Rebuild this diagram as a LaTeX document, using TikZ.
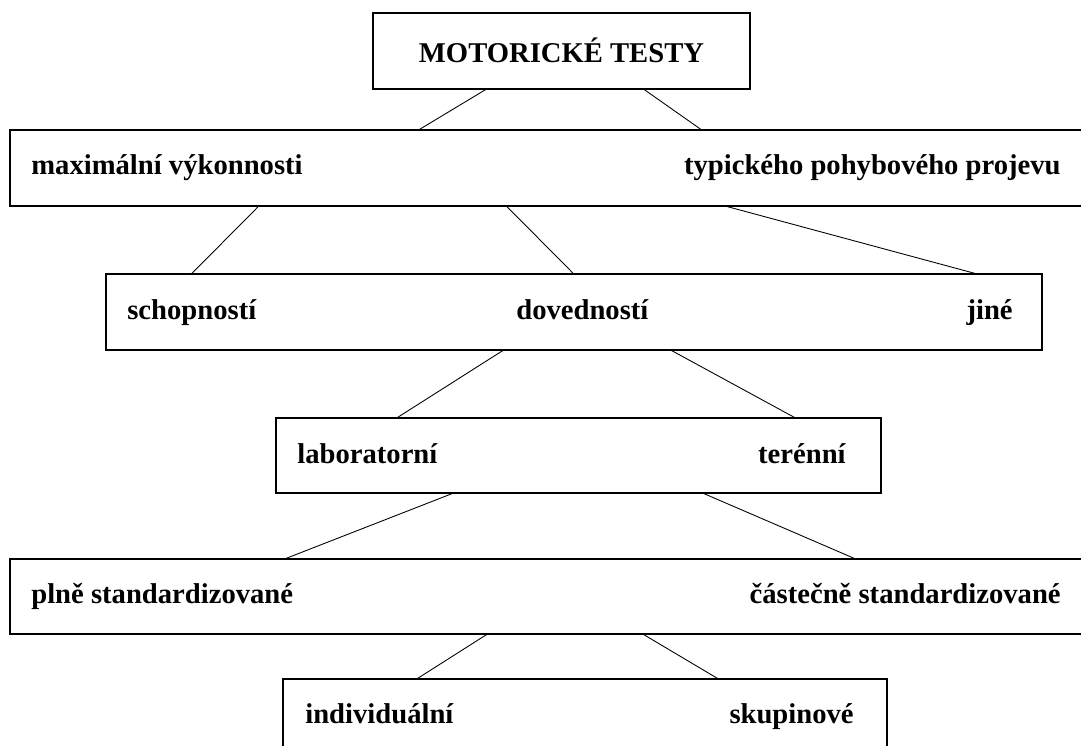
\documentclass[tikz,border=0pt]{standalone}
\usepackage{fontspec}
\setmainfont{Liberation Serif}
\usetikzlibrary{calc}
\begin{document}
\begin{tikzpicture}[x=0.02cm,y=-0.02cm,
    box/.style={draw,line width=1.2pt,rectangle,inner sep=0pt,outer sep=0pt,minimum height=1.51cm},
    lbl/.style={inner sep=0pt,font=\fontsize{16.3}{19.5}\selectfont\bfseries},
    link/.style={line width=0.5pt}]
            \clip (0,0) rectangle (1081,746);
            \node (tests) [box,lbl,minimum width=7.54cm,text height=13.6pt,text depth=0pt] at (561.5,51) {MOTORICKÉ TESTY};
            \node (maxbox) [box,minimum width=21.7cm] at (552.5,168) {};
            \node (skillbox) [box,minimum width=18.72cm] at (574,312) {};
            \node (labbox) [box,minimum width=12.1cm] at (578.5,455.5) {};
            \node (stdbox) [box,minimum width=21.7cm] at (552.5,596.5) {};
            \node (groupbox) [box,minimum width=12.08cm] at (585,716.5) {};
            % texts
            \node (maxl) [lbl,anchor=base west] at (31,175) {maximální výkonnosti};
            \node (maxr) [lbl,anchor=base east] at (1061,175) {typického pohybového projevu};
            \node (skill1) [lbl,anchor=base west] at (127,319) {schopností};
            \node (skill2) [lbl,anchor=base west] at (516,319) {dovedností};
            \node (skill3) [lbl,anchor=base east] at (1013,319) {jiné};
            \node (labl) [lbl,anchor=base west] at (297,463) {laboratorní};
            \node (labr) [lbl,anchor=base east] at (846,463) {terénní};
            \node (stdl) [lbl,anchor=base west] at (31,603) {plně standardizované};
            \node (stdr) [lbl,anchor=base east] at (1061,603) {částečně standardizované};
            \node (groupl) [lbl,anchor=base west] at (305,723) {individuální};
            \node (groupr) [lbl,anchor=base east] at (854,723) {skupinové};
            % connectors
            \draw[link] ($(tests.south west)+(114,0)$) -- ($(maxbox.north west)+(408,0)$);
            \draw[link] ($(tests.south west)+(270,0)$) -- ($(maxbox.north west)+(692,0)$);
            \draw[link] ($(maxbox.south west)+(249,0)$) -- ($(skillbox.north west)+(85,0)$);
            \draw[link] ($(maxbox.south west)+(496,0)$) -- ($(skillbox.north west)+(468,0)$);
            \draw[link] ($(maxbox.south west)+(714,0)$) -- ($(skillbox.north west)+(872,0)$);
            \draw[link] ($(skillbox.south west)+(398,0)$) -- ($(labbox.north west)+(121,0)$);
            \draw[link] ($(skillbox.south west)+(564,0)$) -- ($(labbox.north west)+(519,0)$);
            \draw[link] ($(labbox.south west)+(177,0)$) -- ($(stdbox.north west)+(275,0)$);
            \draw[link] ($(labbox.south west)+(427,0)$) -- ($(stdbox.north west)+(845,0)$);
            \draw[link] ($(stdbox.south west)+(477,0)$) -- ($(groupbox.north west)+(134,0)$);
            \draw[link] ($(stdbox.south west)+(633,0)$) -- ($(groupbox.north west)+(435,0)$);
\end{tikzpicture}
\end{document}
